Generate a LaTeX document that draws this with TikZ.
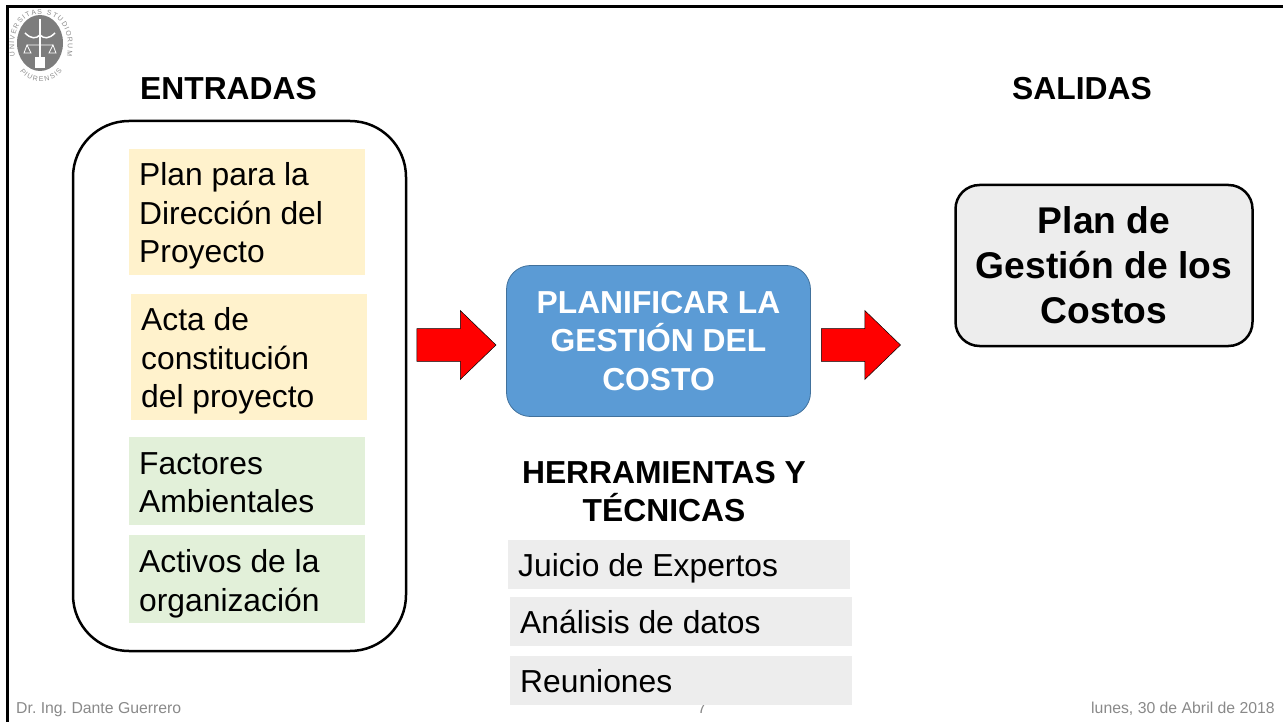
\documentclass[tikz,border=0pt]{standalone}
\usepackage{xcolor}
\usepackage{fontspec}
\setmainfont{Liberation Sans}
\usetikzlibrary{shapes.arrows,decorations.text}
\definecolor{cremaBox}{RGB}{255,242,204}
\definecolor{verdeBox}{RGB}{226,240,217}
\definecolor{grisBox}{RGB}{237,237,237}
\definecolor{azulBox}{RGB}{91,155,213}
\definecolor{azulLine}{RGB}{65,113,156}
\definecolor{grisPie}{RGB}{137,137,137}
\definecolor{grisSello}{RGB}{125,125,125}
\definecolor{grisLetra}{RGB}{140,140,140}
\tikzset{
	itembox/.style 2 args={minimum height=#1,minimum width=#2,inner sep=0pt,anchor=west},
	itemtext/.style={inner xsep=10pt,inner ysep=0pt,anchor=west,align=left,font=\fontsize{31.8}{38.5}\selectfont},
	titulo/.style={font=\fontsize{31.8}{38.5}\selectfont\bfseries,align=center,inner sep=0pt},
	flecha/.style={single arrow,draw=black,line width=.5pt,fill=red,inner xsep=0pt,inner ysep=16pt,minimum height=79pt,minimum width=69pt,single arrow head extend=18pt,single arrow tip angle=88,single arrow head indent=0pt},
	pie/.style={font=\fontsize{15.8}{18}\selectfont,text=grisPie,inner sep=0pt},
	sellotext/.style={postaction={decorate,decoration={text along path,text align={fit to path},text={|\fontsize{7}{8}\selectfont\color{grisLetra}|#1}}}}
}
\begin{document}
\frenchspacing
\begin{tikzpicture}[x=1pt,y=-1pt]
	\useasboundingbox (0,0) rectangle (1283,722);
	\draw[line width=3pt] (7.5,722)--(7.5,7)--(1283,7);
	% sello
	\fill[grisSello] (40,43) ellipse (23pt and 28pt);
	\draw[white,line width=1.2pt] (40,19)--(40,66);
	\draw[white,line width=1.5pt] (25,33)..controls (31,39) and (36,39)..(40,35)..controls (44,39) and (49,39)..(55,33);
	\draw[white,line width=.8pt] (27,45)--(53,45) (27,45)--(24,53)--(31,53)--cycle (53,45)--(49,53)--(56,53)--cycle;
	\fill[white] (35,57) rectangle (45,68);
	\path[sellotext={UNIVERSITAS STUDIORUM}] (15,56)..controls (11,30) and (22,14)..(41,14)..controls (60,14) and (71,30)..(67,56);
	\path[sellotext={PIURENSIS}] (20,71)..controls (28,85) and (54,85)..(62,71);
	% titulos
	\node[titulo] (entradas) at (228.5,88.5) {ENTRADAS};
	\node[titulo] (salidas) at (1082,88.5) {SALIDAS};
	\node[titulo] (herramientas) at (664,491.5) {HERRAMIENTAS Y\\TÉCNICAS};
	% entradas
	\draw[line width=2.5pt,rounded corners=56pt] (73,121) rectangle (406,651);
	\node[itembox={126pt}{236pt},fill=cremaBox] (plan) at (129,212) {};
	\node[itemtext,yshift=-4pt] (plantext) at (plan.west) {Plan para la\\Dirección del\\Proyecto};
	\node[itembox={126pt}{236pt},fill=cremaBox] (acta) at (131,357) {};
	\node[itemtext,yshift=-4pt] (actatext) at (acta.west) {Acta de\\constitución\\del proyecto};
	\node[itembox={88pt}{236pt},fill=verdeBox] (factores) at (129,481) {};
	\node[itemtext,yshift=-1.5pt] (factorestext) at (factores.west) {Factores\\Ambientales};
	\node[itembox={88pt}{236pt},fill=verdeBox] (activos) at (129,579) {};
	\node[itemtext,yshift=-5pt] (activostext) at (activos.west) {Activos de la\\organización};
	% proceso
	\node[flecha] (flechaA) at (448,345) {};
	\node[draw=azulLine,line width=.8pt,fill=azulBox,rounded corners=24pt,minimum width=304pt,minimum height=151pt,inner sep=0pt,text=white,align=center,font=\fontsize{31.8}{38.5}\selectfont\bfseries] (planificar) at (658.5,341) {PLANIFICAR LA\\GESTIÓN DEL\\COSTO};
	\node[flecha] (flechaB) at (852.5,345) {};
	% salida
	\node[draw=black,line width=2.5pt,fill=grisBox,rounded corners=24pt,minimum width=297pt,minimum height=161pt,inner sep=0pt,align=center,font=\fontsize{37.2}{45}\selectfont\bfseries] (gestion) at (1104,265.5) {Plan de\\Gestión de los\\Costos};
	% pie
	\node[pie,anchor=base west] (autor) at (16,713) {Dr. Ing. Dante Guerrero};
	\node[pie,anchor=base] (pagina) at (702,713) {7};
	\node[pie,anchor=base east] (fecha) at (1275,713) {lunes, 30 de Abril de 2018};
	% herramientas
	\node[itembox={49pt}{342pt},fill=grisBox] (juicio) at (508,564.5) {};
	\node[itemtext,yshift=-4pt] (juiciotext) at (juicio.west) {Juicio de Expertos};
	\node[itembox={49pt}{342pt},fill=grisBox] (analisis) at (510,621.5) {};
	\node[itemtext] (analisistext) at (analisis.west) {Análisis de datos};
	\node[itembox={49pt}{342pt},fill=grisBox] (reuniones) at (510,680.5) {};
	\node[itemtext,yshift=-1pt] (reunionestext) at (reuniones.west) {Reuniones};
\end{tikzpicture}
\end{document}
